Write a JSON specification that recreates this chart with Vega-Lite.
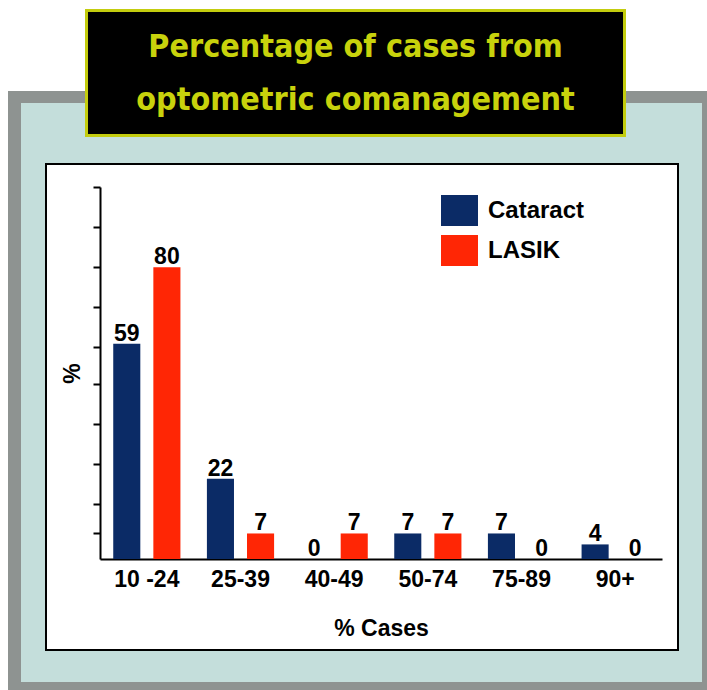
{
  "$schema": "https://vega.github.io/schema/vega-lite/v6.json",
  "background": "white",
  "padding": {"left": 8, "top": 9, "right": 0, "bottom": 0},
  "bounds": "flush",
  "spacing": 0,
  "resolve": {"legend": {"color": "independent"}},
  "config": {"view": {"stroke": null}, "font": "Liberation Sans"},
  "vconcat": [
    {"width": 699, "height": 3, "data": {"values": []}, "mark": "point",
     "view": {"fill": {"gradient": "linear", "x1": 0, "y1": 0, "x2": 1, "y2": 0, "stops": [
       {"offset": 0, "color": "#ffffff"}, {"offset": 0.110157, "color": "#ffffff"}, {"offset": 0.110157, "color": "#c3cc0e"}, {"offset": 0.88412, "color": "#c3cc0e"}, {"offset": 0.88412, "color": "#ffffff"}, {"offset": 1, "color": "#ffffff"}]}}},
    {"width": 699, "height": 79, "data": {"values": []}, "mark": "point",
     "view": {"fill": {"gradient": "linear", "x1": 0, "y1": 0, "x2": 1, "y2": 0, "stops": [
       {"offset": 0, "color": "#ffffff"}, {"offset": 0.110157, "color": "#ffffff"}, {"offset": 0.110157, "color": "#c3cc0e"}, {"offset": 0.114449, "color": "#c3cc0e"}, {"offset": 0.114449, "color": "#000000"}, {"offset": 0.879828, "color": "#000000"}, {"offset": 0.879828, "color": "#c3cc0e"}, {"offset": 0.88412, "color": "#c3cc0e"}, {"offset": 0.88412, "color": "#ffffff"}, {"offset": 1, "color": "#ffffff"}]}}},
    {"width": 699, "height": 12, "data": {"values": []}, "mark": "point",
     "view": {"fill": {"gradient": "linear", "x1": 0, "y1": 0, "x2": 1, "y2": 0, "stops": [
       {"offset": 0, "color": "#8e9391"}, {"offset": 0.110157, "color": "#8e9391"}, {"offset": 0.110157, "color": "#c3cc0e"}, {"offset": 0.114449, "color": "#c3cc0e"}, {"offset": 0.114449, "color": "#000000"}, {"offset": 0.879828, "color": "#000000"}, {"offset": 0.879828, "color": "#c3cc0e"}, {"offset": 0.88412, "color": "#c3cc0e"}, {"offset": 0.88412, "color": "#8e9391"}, {"offset": 1, "color": "#8e9391"}]}}},
    {"width": 699, "height": 31,
     "view": {"fill": {"gradient": "linear", "x1": 0, "y1": 0, "x2": 1, "y2": 0, "stops": [
       {"offset": 0, "color": "#8e9391"}, {"offset": 0.018598, "color": "#8e9391"}, {"offset": 0.018598, "color": "#c4dedb"}, {"offset": 0.110157, "color": "#c4dedb"}, {"offset": 0.110157, "color": "#c3cc0e"}, {"offset": 0.114449, "color": "#c3cc0e"}, {"offset": 0.114449, "color": "#000000"}, {"offset": 0.879828, "color": "#000000"}, {"offset": 0.879828, "color": "#c3cc0e"}, {"offset": 0.88412, "color": "#c3cc0e"}, {"offset": 0.88412, "color": "#c4dedb"}, {"offset": 0.992847, "color": "#c4dedb"}, {"offset": 0.992847, "color": "#8e9391"}, {"offset": 1, "color": "#8e9391"}]}},
     "data": {"values": [{"title": "Percentage of cases from optometric comanagement"}]},
     "mark": {"type": "text", "font": "DejaVu Sans Condensed", "fontWeight": "bold", "fontSize": 32, "lineHeight": 53, "dx": -2, "dy": -72, "color": "#c8d20c", "align": "center", "baseline": "middle"},
     "encoding": {"text": {"value": ["Percentage of cases from", "optometric comanagement"]}}},
    {"width": 699, "height": 3, "data": {"values": []}, "mark": "point",
     "view": {"fill": {"gradient": "linear", "x1": 0, "y1": 0, "x2": 1, "y2": 0, "stops": [
       {"offset": 0, "color": "#8e9391"}, {"offset": 0.018598, "color": "#8e9391"}, {"offset": 0.018598, "color": "#c4dedb"}, {"offset": 0.110157, "color": "#c4dedb"}, {"offset": 0.110157, "color": "#c3cc0e"}, {"offset": 0.88412, "color": "#c3cc0e"}, {"offset": 0.88412, "color": "#c4dedb"}, {"offset": 0.992847, "color": "#c4dedb"}, {"offset": 0.992847, "color": "#8e9391"}, {"offset": 1, "color": "#8e9391"}]}}},
    {"width": 699, "height": 26, "data": {"values": []}, "mark": "point",
     "view": {"fill": {"gradient": "linear", "x1": 0, "y1": 0, "x2": 1, "y2": 0, "stops": [
       {"offset": 0, "color": "#8e9391"}, {"offset": 0.018598, "color": "#8e9391"}, {"offset": 0.018598, "color": "#c4dedb"}, {"offset": 0.992847, "color": "#c4dedb"}, {"offset": 0.992847, "color": "#8e9391"}, {"offset": 1, "color": "#8e9391"}]}}},
    {"width": 699, "height": 2, "data": {"values": []}, "mark": "point",
     "view": {"fill": {"gradient": "linear", "x1": 0, "y1": 0, "x2": 1, "y2": 0, "stops": [
       {"offset": 0, "color": "#8e9391"}, {"offset": 0.018598, "color": "#8e9391"}, {"offset": 0.018598, "color": "#c4dedb"}, {"offset": 0.052933, "color": "#c4dedb"}, {"offset": 0.052933, "color": "#000000"}, {"offset": 0.959943, "color": "#000000"}, {"offset": 0.959943, "color": "#c4dedb"}, {"offset": 0.992847, "color": "#c4dedb"}, {"offset": 0.992847, "color": "#8e9391"}, {"offset": 1, "color": "#8e9391"}]}}},
    {
      "width": 699,
      "height": 484,
      "view": {"fill": {"gradient": "linear", "x1": 0, "y1": 0, "x2": 1, "y2": 0, "stops": [
        {"offset": 0, "color": "#8e9391"}, {"offset": 0.018598, "color": "#8e9391"}, {"offset": 0.018598, "color": "#c4dedb"}, {"offset": 0.052933, "color": "#c4dedb"}, {"offset": 0.052933, "color": "#000000"}, {"offset": 0.055794, "color": "#000000"}, {"offset": 0.055794, "color": "#ffffff"}, {"offset": 0.957082, "color": "#ffffff"}, {"offset": 0.957082, "color": "#000000"}, {"offset": 0.959943, "color": "#000000"}, {"offset": 0.959943, "color": "#c4dedb"}, {"offset": 0.992847, "color": "#c4dedb"}, {"offset": 0.992847, "color": "#8e9391"}, {"offset": 1, "color": "#8e9391"}]}},
      "data": {"values": [
        {"range": "10 -24", "series": "Cataract", "value": 59},
        {"range": "10 -24", "series": "LASIK", "value": 80},
        {"range": "25-39", "series": "Cataract", "value": 22},
        {"range": "25-39", "series": "LASIK", "value": 7},
        {"range": "40-49", "series": "Cataract", "value": 0},
        {"range": "40-49", "series": "LASIK", "value": 7},
        {"range": "50-74", "series": "Cataract", "value": 7},
        {"range": "50-74", "series": "LASIK", "value": 7},
        {"range": "75-89", "series": "Cataract", "value": 7},
        {"range": "75-89", "series": "LASIK", "value": 0},
        {"range": "90+", "series": "Cataract", "value": 4},
        {"range": "90+", "series": "LASIK", "value": 0}
      ]},
      "encoding": {
        "x": {
          "field": "range", "type": "nominal", "sort": null,
          "scale": {"range": [92, 654], "paddingInner": 0.12, "paddingOuter": 0.06},
          "axis": {"orient": "bottom", "offset": -90, "title": "% Cases", "domainColor": "black", "domainWidth": 2, "ticks": false, "labelFontSize": 23, "labelFontWeight": "bold", "labelColor": "black", "labelAngle": 0, "labelPadding": 9, "titleFontSize": 23, "titleFontWeight": "bold", "titleColor": "black", "titlePadding": 26, "grid": false}
        },
        "xOffset": {"field": "series", "type": "nominal", "scale": {"paddingInner": 0.325, "paddingOuter": 0.19}},
        "y": {
          "field": "value", "type": "quantitative",
          "scale": {"domain": [0, 102], "range": [394, 22], "nice": false, "zero": true},
          "axis": {"orient": "left", "offset": -92, "title": "%", "labels": false, "values": [7, 15, 26, 37, 48, 58, 69, 80, 91, 102], "ticks": true, "tickSize": 7, "tickWidth": 2, "tickColor": "black", "domainColor": "black", "domainWidth": 2, "grid": false, "titleFontSize": 23, "titleFontWeight": "bold", "titleColor": "black", "titlePadding": 8}
        }
      },
      "layer": [
        {
          "mark": {"type": "bar"},
          "encoding": {
            "color": {
              "field": "series", "type": "nominal",
              "scale": {"domain": ["Cataract", "LASIK"], "range": ["#0b2b66", "#ff2605"]},
              "legend": {"orient": "none", "legendX": 433, "legendY": 27, "title": null, "symbolType": "M-1,-0.84H1V0.84H-1Z", "symbolSize": 1369, "symbolStrokeWidth": 0, "symbolOpacity": 1, "labelFontSize": 24, "labelFontWeight": "bold", "labelColor": "black", "labelOffset": 10, "rowPadding": 5, "padding": 0}
            }
          }
        },
        {
          "mark": {"type": "text", "baseline": "alphabetic", "dy": -3, "fontSize": 23, "fontWeight": "bold", "color": "black"},
          "encoding": {"text": {"field": "value", "type": "quantitative"}}
        }
      ]
    },
    {"width": 699, "height": 2, "data": {"values": []}, "mark": "point",
     "view": {"fill": {"gradient": "linear", "x1": 0, "y1": 0, "x2": 1, "y2": 0, "stops": [
       {"offset": 0, "color": "#8e9391"}, {"offset": 0.018598, "color": "#8e9391"}, {"offset": 0.018598, "color": "#c4dedb"}, {"offset": 0.052933, "color": "#c4dedb"}, {"offset": 0.052933, "color": "#000000"}, {"offset": 0.959943, "color": "#000000"}, {"offset": 0.959943, "color": "#c4dedb"}, {"offset": 0.992847, "color": "#c4dedb"}, {"offset": 0.992847, "color": "#8e9391"}, {"offset": 1, "color": "#8e9391"}]}}},
    {"width": 699, "height": 31, "data": {"values": []}, "mark": "point",
     "view": {"fill": {"gradient": "linear", "x1": 0, "y1": 0, "x2": 1, "y2": 0, "stops": [
       {"offset": 0, "color": "#8e9391"}, {"offset": 0.018598, "color": "#8e9391"}, {"offset": 0.018598, "color": "#c4dedb"}, {"offset": 0.992847, "color": "#c4dedb"}, {"offset": 0.992847, "color": "#8e9391"}, {"offset": 1, "color": "#8e9391"}]}}},
    {"width": 699, "height": 8, "data": {"values": []}, "mark": "point", "view": {"fill": "#8e9391"}}
  ]
}
